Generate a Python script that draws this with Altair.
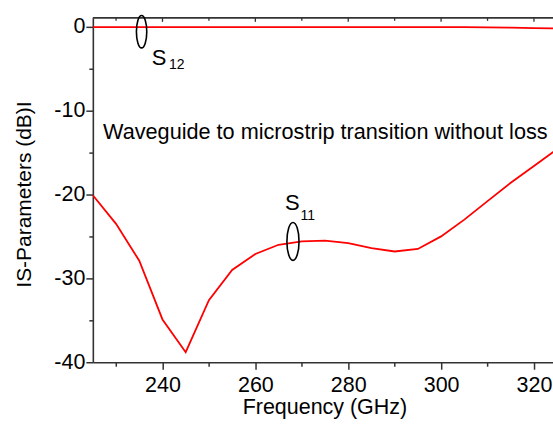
import altair as alt
import pandas as pd

# ---- data ----
freq = [225, 230, 235, 240, 245, 250, 255, 260, 265, 270, 275,
        280, 285, 290, 295, 300, 305, 310, 315, 320, 325]
s11 = [-20.1, -23.5, -27.9, -34.9, -38.8, -32.6, -29.0, -27.1, -26.0, -25.6, -25.5,
       -25.8, -26.4, -26.8, -26.5, -25.0, -23.0, -20.8, -18.6, -16.6, -14.6]
s12 = [-0.05, -0.05, -0.05, -0.05, -0.05, -0.05, -0.05, -0.05, -0.05, -0.05, -0.05,
       -0.05, -0.05, -0.05, -0.05, -0.05, -0.06, -0.08, -0.12, -0.17, -0.22]

x_ticks = [230, 240, 250, 260, 270, 280, 290, 300, 310, 320]
x_major = [240, 260, 280, 300, 320]
x_minor = [230, 250, 270, 290, 310]
y_ticks = [-40, -35, -30, -25, -20, -15, -10, -5, 0]

note_text = ["Waveguide to microstrip transition without loss"]
note_x = [227.2]
note_y = [-13.35]

s_labels = ["S", "S"]
s_x = [237.7, 266.4]
s_y = [-4.55, -21.8]
sub_labels = ["12", "11"]
sub_x = [241.4, 269.7]
sub_y = [-5.05, -23.0]

ell12_x = [235.5]
ell12_y = [-0.6]
ell11_x = [268.1]
ell11_y = [-25.6]

FONT = "Liberation Sans"
AX = "#333333"

df = pd.DataFrame({
    "f": freq * 2,
    "v": s11 + s12,
    "series": ["S11"] * len(freq) + ["S12"] * len(freq),
})

xscale = alt.Scale(domain=[225, 324.1], nice=False, zero=False)
yscale = alt.Scale(domain=[-40, 1.05], nice=False, zero=False)

xaxis = alt.Axis(
    values=x_ticks,
    labelExpr="datum.value % 20 === 0 ? '' + datum.value : ''",
    tickSize={"condition": {"test": "datum.value % 20 === 0", "value": 7}, "value": 4},
    labelPadding=5, labelFont=FONT, labelFontSize=21.5, labelColor="black",
    labelFlush=False, labelOverlap=False,
    domainColor=AX, domainWidth=1.6, tickColor=AX, tickWidth=1.5,
    grid=False, title="Frequency (GHz)", titleFont=FONT, titleFontSize=21.5,
    titleFontWeight="normal", titleColor="black",
    titleX=232, titleY=51.5, titleBaseline="alphabetic", titleAlign="center",
)
yaxis = alt.Axis(
    values=y_ticks,
    labelExpr="datum.value % 10 === 0 ? '' + datum.value : ''",
    tickSize={"condition": {"test": "datum.value % 10 === 0", "value": 7}, "value": 4},
    labelPadding=1, labelFont=FONT, labelFontSize=21.5, labelColor="black",
    labelFlush=False, labelOverlap=False,
    domainColor=AX, domainWidth=1.6, tickColor=AX, tickWidth=1.5,
    grid=False, title="IS-Parameters (dB)I", titleFont=FONT, titleFontSize=21,
    titleFontWeight="normal", titleColor="black",
    titleX=-62, titleY=176.5, titleAngle=-90, titleBaseline="alphabetic",
    titleAlign="center",
)

lines = alt.Chart(df).mark_line(color="#ff0000", strokeWidth=1.8, clip=True).encode(
    x=alt.X("f:Q", scale=xscale, axis=xaxis),
    y=alt.Y("v:Q", scale=yscale, axis=yaxis),
    detail="series:N",
)

top_border = alt.Chart(pd.DataFrame({"a": [0]})).mark_rule(color=AX, strokeWidth=1.6).encode(
    x=alt.value(0), x2=alt.value(461), y=alt.value(0)
)
top_major = alt.Chart(pd.DataFrame({"f": x_major})).mark_rule(color=AX, strokeWidth=1.3).encode(
    x=alt.X("f:Q", scale=xscale), y=alt.value(0), y2=alt.value(4)
)
top_minor = alt.Chart(pd.DataFrame({"f": x_minor})).mark_rule(color=AX, strokeWidth=1.3).encode(
    x=alt.X("f:Q", scale=xscale), y=alt.value(0), y2=alt.value(3)
)

ELL = "M0,-1 A0.32,1 0 1,1 0,1 A0.32,1 0 1,1 0,-1 Z"
ell12 = alt.Chart(pd.DataFrame({"f": ell12_x, "v": ell12_y})).mark_point(
    shape=ELL, size=1050, filled=False, stroke="black", strokeWidth=1.6, opacity=1
).encode(x=alt.X("f:Q", scale=xscale), y=alt.Y("v:Q", scale=yscale))
ell11 = alt.Chart(pd.DataFrame({"f": ell11_x, "v": ell11_y})).mark_point(
    shape=ELL, size=1440, filled=False, stroke="black", strokeWidth=1.6, opacity=1
).encode(x=alt.X("f:Q", scale=xscale), y=alt.Y("v:Q", scale=yscale))

note = alt.Chart(pd.DataFrame({"t": note_text, "f": note_x, "v": note_y})).mark_text(
    align="left", baseline="alphabetic", font=FONT, fontSize=21.7, color="black"
).encode(x=alt.X("f:Q", scale=xscale), y=alt.Y("v:Q", scale=yscale), text="t:N")

s_text = alt.Chart(pd.DataFrame({"t": s_labels, "f": s_x, "v": s_y})).mark_text(
    align="left", baseline="alphabetic", font=FONT, fontSize=22, color="black"
).encode(x=alt.X("f:Q", scale=xscale), y=alt.Y("v:Q", scale=yscale), text="t:N")

sub_text = alt.Chart(pd.DataFrame({"t": sub_labels, "f": sub_x, "v": sub_y})).mark_text(
    align="left", baseline="alphabetic", font=FONT, fontSize=14, color="black"
).encode(x=alt.X("f:Q", scale=xscale), y=alt.Y("v:Q", scale=yscale), text="t:N")

chart = alt.layer(
    lines, top_border, top_major, top_minor, ell12, ell11, note, s_text, sub_text
).properties(
    width=461, height=345,
    autosize=alt.AutoSizeParams(type="none"),
    padding={"left": 93, "top": 17.5, "right": 0, "bottom": 70},
    background="white",
).configure_view(stroke=None)

chart.save("out.html", embed_options={"renderer": "svg", "actions": False})
